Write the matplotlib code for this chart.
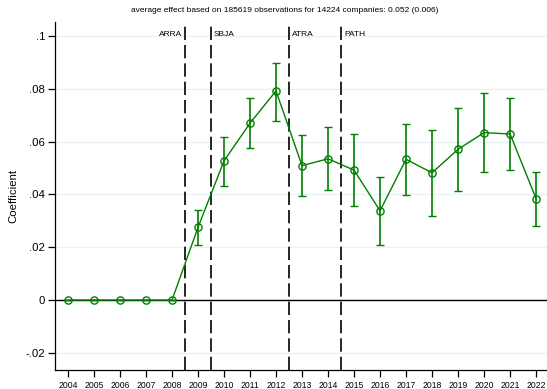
import matplotlib.pyplot as plt

plt.rcParams['font.family'] = ['Liberation Sans', 'DejaVu Sans']

years = list(range(2004, 2023))
coef = [0, 0, 0, 0, 0, 0.0275, 0.0527, 0.067, 0.0792, 0.0509, 0.0535, 0.0492,
        0.0338, 0.0533, 0.0482, 0.0571, 0.0634, 0.0629, 0.0384]
ci_low = [0, 0, 0, 0, 0, 0.0207, 0.0432, 0.0576, 0.068, 0.0393, 0.0418, 0.0355,
          0.0208, 0.0399, 0.0318, 0.0413, 0.0485, 0.0491, 0.0282]
ci_high = [0, 0, 0, 0, 0, 0.0341, 0.0617, 0.0764, 0.0896, 0.0626, 0.0654, 0.063,
           0.0466, 0.0668, 0.0644, 0.0728, 0.0784, 0.0766, 0.0485]

events = ['ARRA', 'SBJA', 'ATRA', 'PATH']
event_x = [2008.5, 2009.5, 2012.5, 2014.5]

yticks = [-0.02, 0, 0.02, 0.04, 0.06, 0.08, 0.1]
ytick_labels = ['-.02', '0', '.02', '.04', '.06', '.08', '.1']

green = '#008000'

fig = plt.figure(figsize=(5.47, 3.89), dpi=100)
ax = fig.add_axes([0.1005, 0.0488, 0.8995, 0.8946])

for t in yticks:
    ax.axhline(t, color='#eaf2f3', lw=1, zorder=0)
ax.axhline(0, color='black', lw=1, zorder=1)

err = [[c - lo for c, lo in zip(coef, ci_low)],
       [hi - c for c, hi in zip(coef, ci_high)]]
ax.errorbar(years, coef, yerr=err, color=green, lw=1, elinewidth=1.2,
            capsize=2.8, capthick=1.2, marker='o', markersize=5.2,
            markerfacecolor='none', markeredgecolor=green, markeredgewidth=1,
            zorder=3)

for name, x in zip(events, event_x):
    ax.axvline(x, color='black', lw=1.2, ls=(0, (8, 3)), zorder=2)
    if name == 'ARRA':
        ax.text(x - 0.12, 0.975, name, transform=ax.get_xaxis_transform(),
                ha='right', va='top', fontsize=6)
    else:
        ax.text(x + 0.12, 0.975, name, transform=ax.get_xaxis_transform(),
                ha='left', va='top', fontsize=6)

ax.set_xlim(2003.5, 2022.42)
ax.set_ylim(-0.0265, 0.1053)
ax.set_xticks(years)
ax.set_xticklabels([str(y) for y in years], fontsize=6.2)
ax.set_yticks(yticks)
ax.set_yticklabels(ytick_labels, fontsize=8.2)
ax.tick_params(axis='both', length=5, width=0.9, color='black')
ax.tick_params(axis='x', pad=3)
ax.tick_params(axis='y', pad=2)

ax.spines['top'].set_visible(False)
ax.spines['right'].set_visible(False)
ax.spines['left'].set_linewidth(0.9)
ax.spines['bottom'].set_linewidth(0.9)

ax.set_ylabel('Coefficient', fontsize=8.2, labelpad=5)
fig.text(0.52, 0.972, 'average effect based on 185619 observations for 14224 companies: 0.052 (0.006)',
         ha='center', va='center', fontsize=6)

fig.savefig('out.png', dpi=100)
